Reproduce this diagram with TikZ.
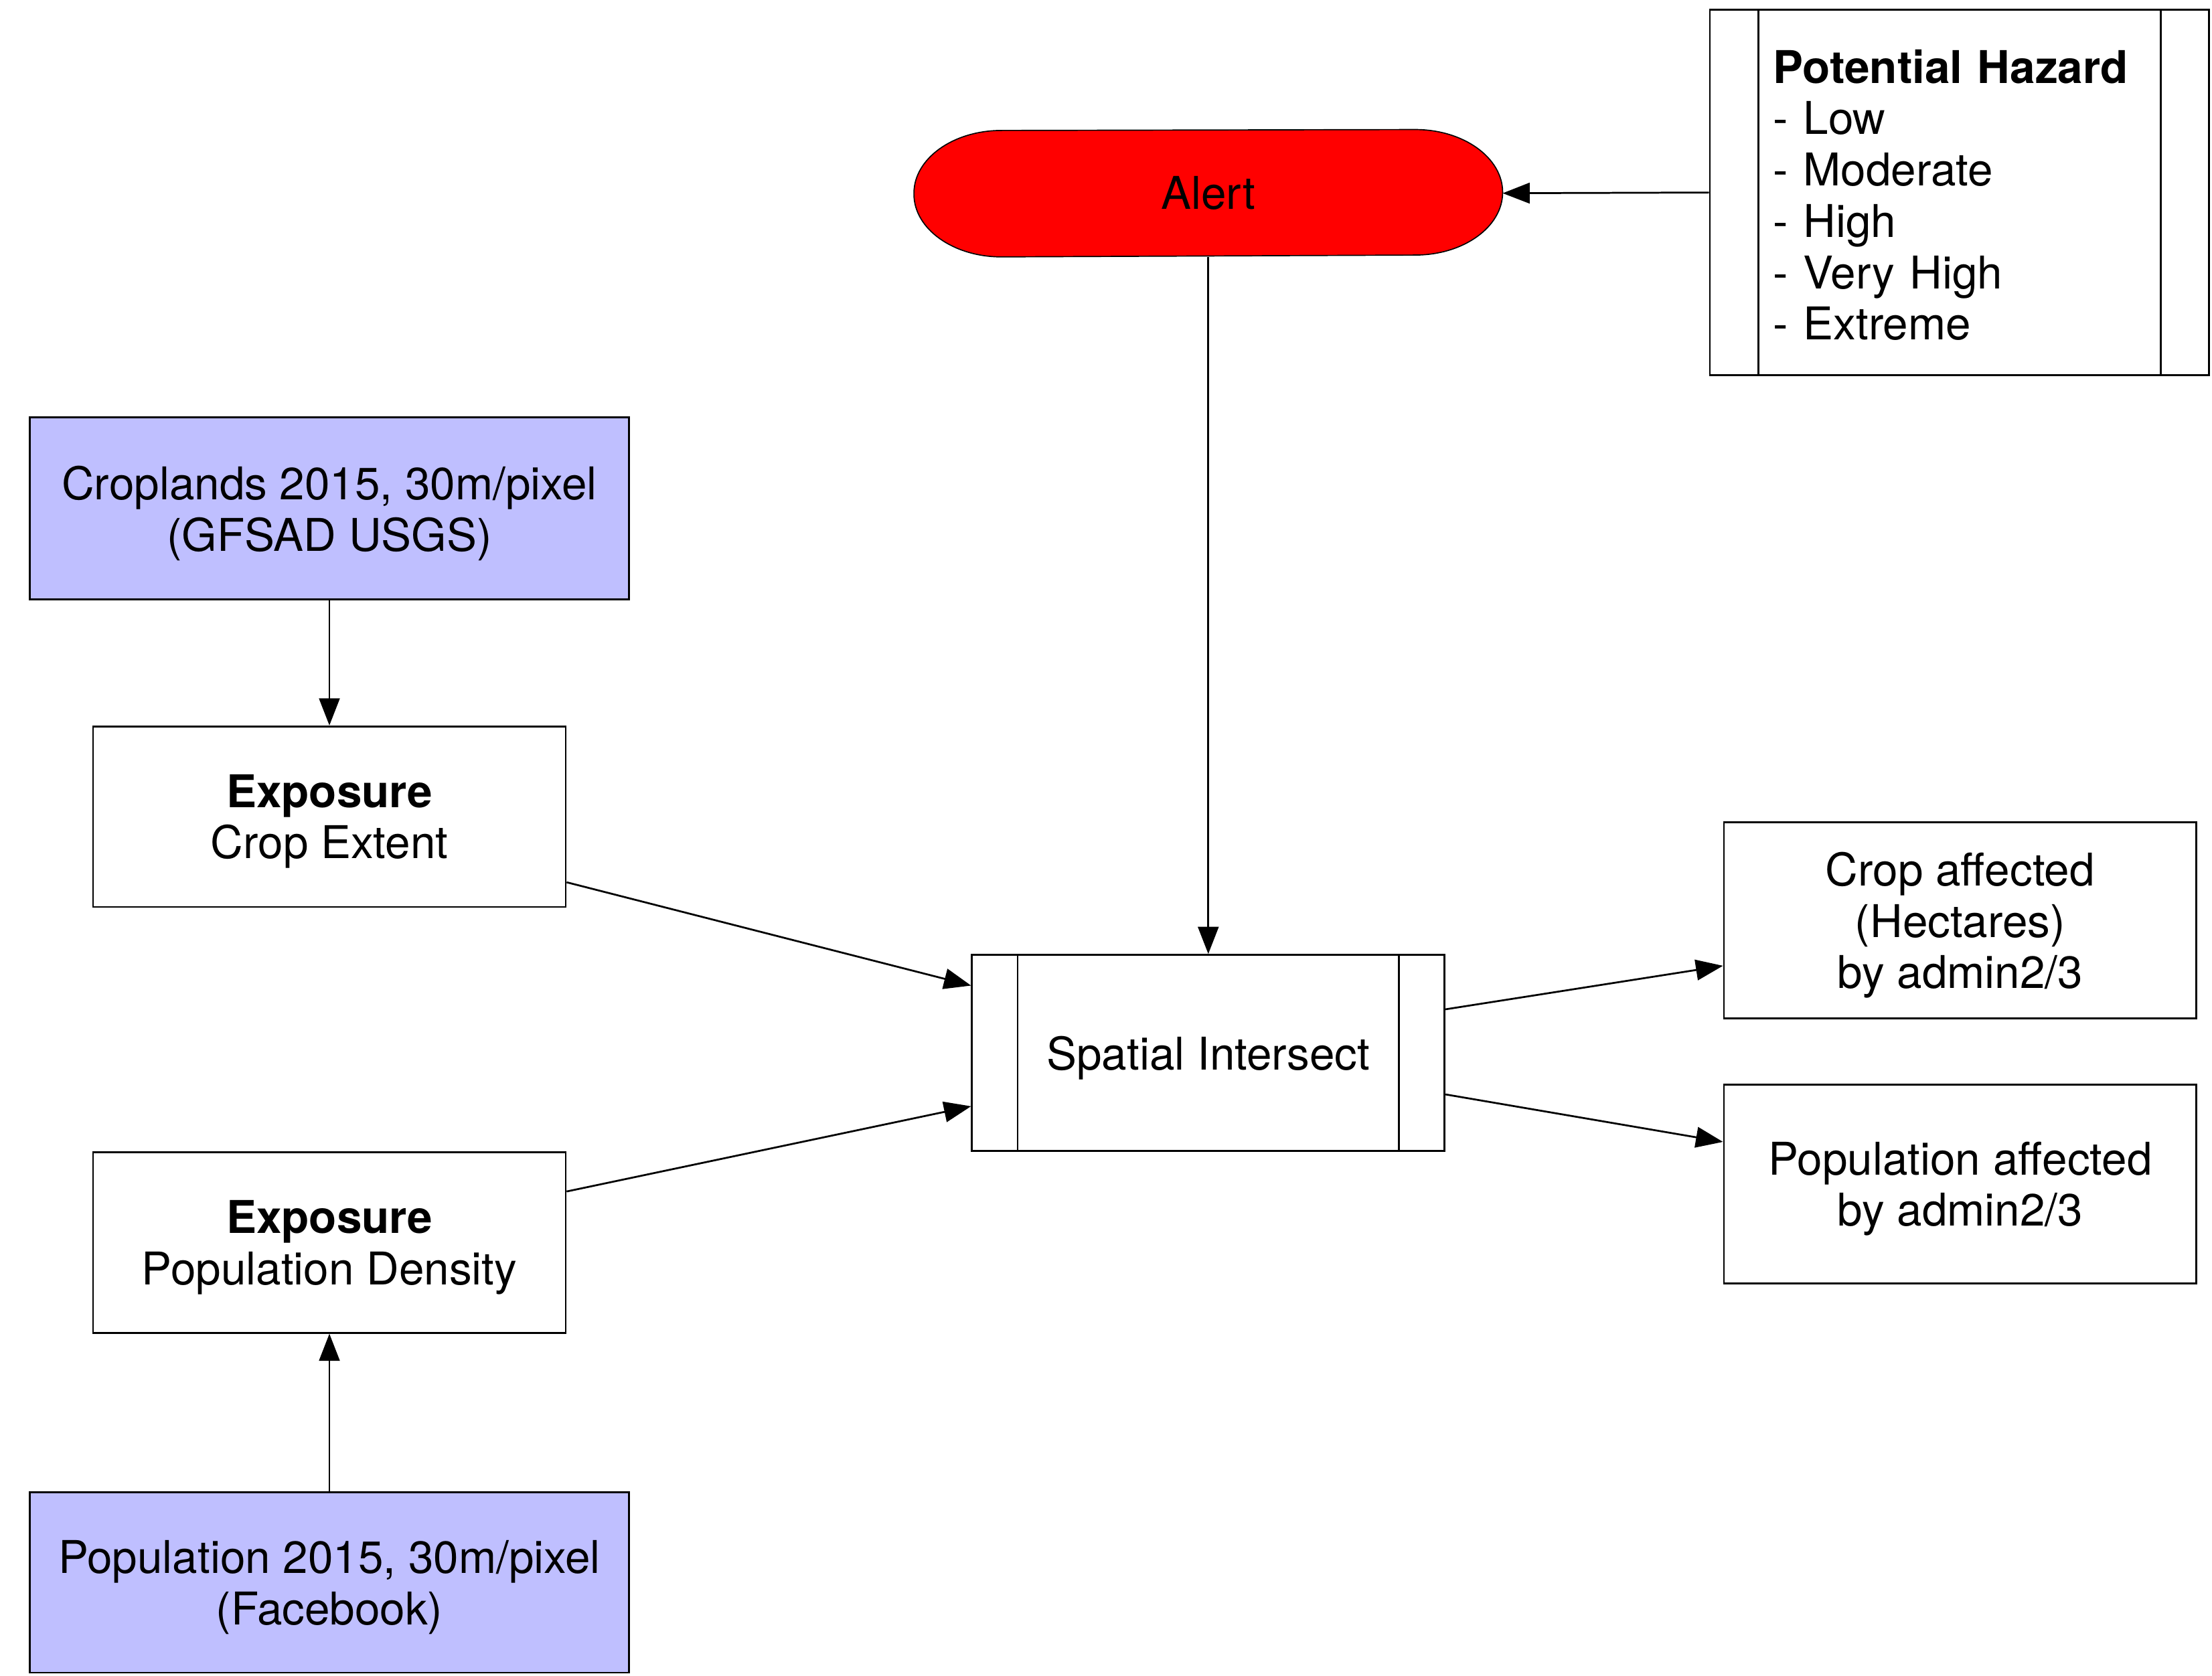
\documentclass[tikz,border=0pt]{standalone}
\usepackage{fontspec}
\setmainfont{TeX Gyre Heros}
\usetikzlibrary{arrows.meta,calc,backgrounds}
\definecolor{lav}{RGB}{191,191,255}
\definecolor{alertred}{RGB}{255,0,0}
\begin{document}
\begin{tikzpicture}[x=0.5pt,y=-0.5pt, line width=0.65pt,
  font=\fontsize{16}{18.2}\selectfont,
  box/.style={draw, rectangle, minimum width=167.5pt, minimum height=64pt, align=center, inner sep=0pt, text depth=0pt},
  src/.style={box, fill=lav, minimum width=212.5pt},
  arr/.style={-{Triangle[length=9.6pt,width=7.3pt]}}]
\useasboundingbox (0,0) rectangle (1568,1188);

% nodes
\node[draw, minimum width=177pt, minimum height=129.5pt, text width=132pt, align=left, inner xsep=22.5pt, inner ysep=0pt]
  (hazard) at (1389,136.5) {\rule{0pt}{13.7pt}\textbf{Potential Hazard}\\- Low\\- Moderate\\- High\\- Very High\\- Extreme};
\draw ($(hazard.north west)+(35,0)$) -- ($(hazard.south west)+(35,0)$);
\draw ($(hazard.north east)+(-35,0)$) -- ($(hazard.south east)+(-35,0)$);

\node[minimum width=208pt, minimum height=44.5pt, inner sep=0pt] (alert) at (856.5,137) {Alert};
\begin{scope}[on background layer]
\fill[white] (0,0) rectangle (1568,1188);
\path[draw, fill=alertred, line join=round] (alert.west)
  arc[start angle=180, end angle=90, x radius=31pt, y radius=22.25pt]
  -- ($(alert.north east)+(-62,0)$)
  arc[start angle=90, end angle=-90, x radius=31pt, y radius=22.25pt]
  -- ($(alert.south west)+(62,0)$)
  arc[start angle=270, end angle=180, x radius=31pt, y radius=22.25pt] -- cycle;
\end{scope}

\node[src, minimum height=64.5pt] (crop2015) at (233.5,360.5) {Croplands 2015, 30m/pixel\\(GFSAD USGS)};
\node[box] (expcrop) at (233.5,579) {\textbf{Exposure}\\Crop Extent};
\node[box] (exppop) at (233.5,881) {\textbf{Exposure}\\Population Density};
\node[src] (pop2015) at (233.5,1122) {Population 2015, 30m/pixel\\(Facebook)};

\node[box, minimum height=69.5pt] (spatial) at (856.5,746.5) {Spatial Intersect};
\draw ($(spatial.north west)+(33,0)$) -- ($(spatial.south west)+(33,0)$);
\draw ($(spatial.north east)+(-33,0)$) -- ($(spatial.south east)+(-33,0)$);

\node[box, minimum height=69.5pt] (cropaff) at (1389.5,652.5) {Crop affected\\(Hectares)\\by admin2/3};
\node[box, minimum height=70.5pt] (popaff) at (1389.5,839.5) {Population affected\\by admin2/3};

% connectors
\draw[arr] (hazard.west) -- (alert.east);
\draw[arr] (alert.south) -- (spatial.north);
\draw[arr] (crop2015.south) -- (expcrop.north);
\draw[arr] (pop2015.north) -- (exppop.south);
\draw[arr] ($(expcrop.north east)!0.86!(expcrop.south east)$) -- ($(spatial.north west)!0.16!(spatial.south west)$);
\draw[arr] ($(exppop.north east)!0.22!(exppop.south east)$) -- ($(spatial.north west)!0.77!(spatial.south west)$);
\draw[arr] ($(spatial.north east)!0.28!(spatial.south east)$) -- ($(cropaff.north west)!0.73!(cropaff.south west)$);
\draw[arr] ($(spatial.north east)!0.71!(spatial.south east)$) -- ($(popaff.north west)!0.29!(popaff.south west)$);
\end{tikzpicture}
\end{document}
